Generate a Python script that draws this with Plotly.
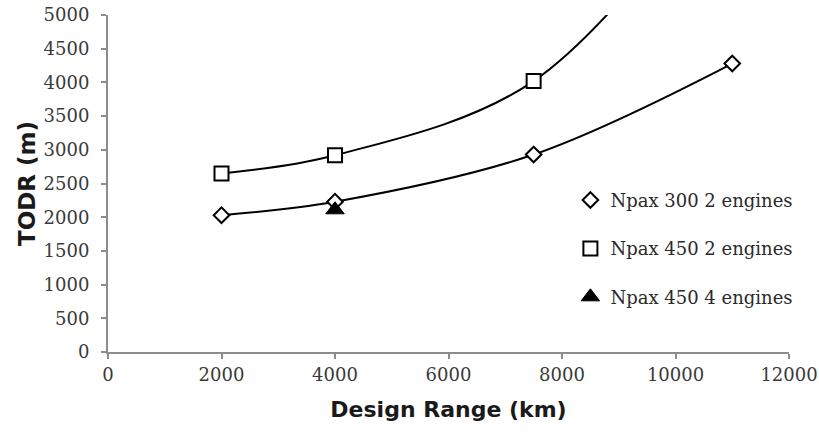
import plotly.graph_objects as go

# Design range (km) and take-off distance required (m) for each configuration
range_300_2 = [2000, 4000, 7500, 11000]
todr_300_2 = [2030, 2230, 2930, 4280]

range_450_2 = [2000, 4000, 7500, 11000]
todr_450_2 = [2650, 2920, 4020, 7300]

range_450_4 = [4000]
todr_450_4 = [2110]

x_ticks = [0, 2000, 4000, 6000, 8000, 10000, 12000]
y_ticks = [0, 500, 1000, 1500, 2000, 2500, 3000, 3500, 4000, 4500, 5000]

tick_font = dict(family="DejaVu Serif", size=18, color="#3a3a3a")
axis_grey = "#8c8c8c"

fig = go.Figure()

# Smoothed connecting curves (not shown in the legend)
fig.add_trace(go.Scatter(x=range_450_2, y=todr_450_2, mode="lines",
                         line=dict(color="black", width=2, shape="spline", smoothing=1.0),
                         showlegend=False, hoverinfo="skip"))
fig.add_trace(go.Scatter(x=range_300_2, y=todr_300_2, mode="lines",
                         line=dict(color="black", width=2, shape="spline", smoothing=1.0),
                         showlegend=False, hoverinfo="skip"))

# Markers
fig.add_trace(go.Scatter(x=range_300_2, y=todr_300_2, mode="markers",
                         name="Npax 300 2 engines", legendgroup="a",
                         marker=dict(symbol="diamond", size=12, color="white",
                                     line=dict(color="black", width=2))))
fig.add_trace(go.Scatter(x=range_450_2, y=todr_450_2, mode="markers",
                         name="Npax 450 2 engines", legendgroup="b",
                         marker=dict(symbol="square", size=14, color="white",
                                     line=dict(color="black", width=2))))
fig.add_trace(go.Scatter(x=range_450_4, y=todr_450_4, mode="markers",
                         name="Npax 450 4 engines", legendgroup="c",
                         marker=dict(symbol="triangle-up", size=16, color="black",
                                     line=dict(color="black", width=1))))

fig.update_layout(
    width=819, height=439,
    margin=dict(l=108, r=30, t=15, b=87),
    paper_bgcolor="white", plot_bgcolor="white",
    showlegend=True,
    legend=dict(x=0.679, y=0.505, xanchor="left", yanchor="top",
                font=dict(family="DejaVu Serif", size=18, color="#2a2a2a"),
                bgcolor="rgba(0,0,0,0)", borderwidth=0,
                traceorder="grouped", tracegroupgap=22, itemwidth=30),
    xaxis=dict(range=[0, 12000], tickvals=x_ticks, ticktext=[str(v) for v in x_ticks],
               showgrid=False, zeroline=False, showline=True, linecolor=axis_grey,
               linewidth=2, ticks="outside", ticklen=5, tickwidth=1.5, tickcolor=axis_grey,
               tickfont=tick_font, automargin=False,
               title=dict(text="<b>Design Range (km)</b>",
                          font=dict(family="DejaVu Sans", size=22, color="#1a1a1a"),
                          standoff=18)),
    yaxis=dict(range=[0, 5000], tickvals=y_ticks, ticktext=[str(v) for v in y_ticks],
               showgrid=False, zeroline=False, showline=True, linecolor=axis_grey,
               linewidth=2, ticks="outside", ticklen=5, tickwidth=1.5, tickcolor=axis_grey,
               tickfont=tick_font, ticklabelstandoff=8, automargin=False,
               title=dict(text="<b>TODR (m)</b>",
                          font=dict(family="DejaVu Sans", size=23, color="#1a1a1a"),
                          standoff=2)),
)

fig.write_html("out.html")
